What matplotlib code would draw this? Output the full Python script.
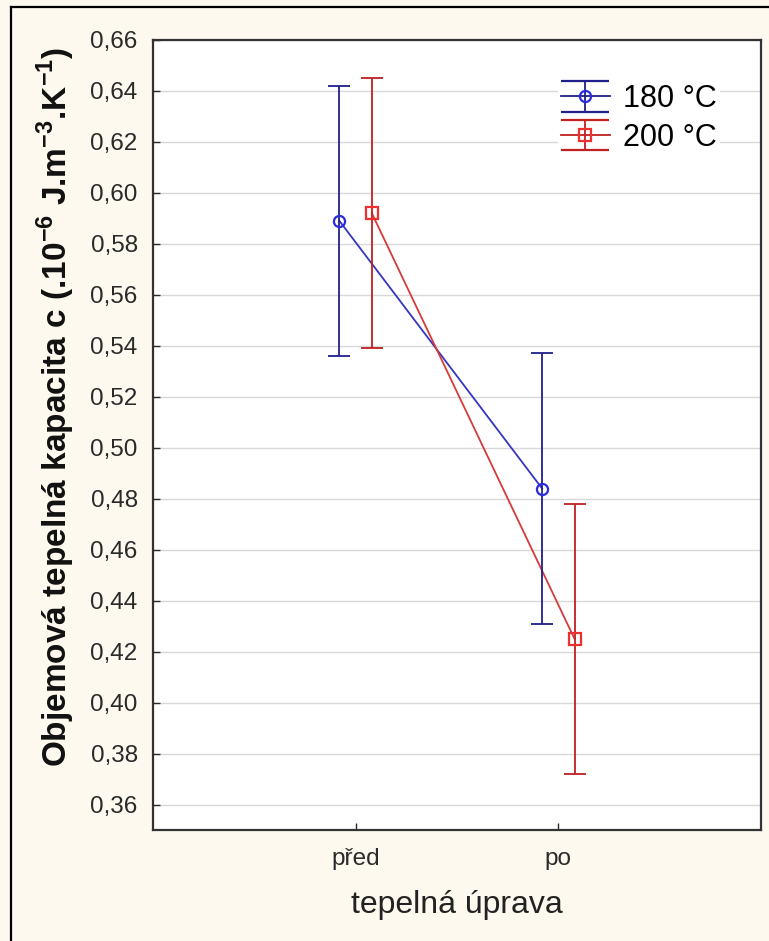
import matplotlib
matplotlib.use("Agg")
import matplotlib.pyplot as plt
from matplotlib.lines import Line2D

# data
groups = ["před", "po"]
series = ["180 °C", "200 °C"]
mean_180 = [0.589, 0.484]
err_180 = [0.053, 0.053]
mean_200 = [0.592, 0.425]
err_200 = [0.053, 0.053]
yticks = [0.36, 0.38, 0.40, 0.42, 0.44, 0.46, 0.48, 0.50, 0.52, 0.54,
          0.56, 0.58, 0.60, 0.62, 0.64, 0.66]

plt.rcParams["font.family"] = ["Liberation Sans", "DejaVu Sans"]
plt.rcParams["mathtext.fontset"] = "custom"
plt.rcParams["mathtext.rm"] = "Liberation Sans"
plt.rcParams["mathtext.bf"] = "Liberation Sans:bold"

bg = "#fdf9ef"
fig = plt.figure(figsize=(7.69, 9.41), dpi=100, facecolor=bg)
ax = fig.add_axes([153/769, 1 - 830/941, 608/769, 790/941])
ax.set_facecolor("white")

# outer frame (top and left visible)
fig.add_artist(Line2D([11/769, 11/769], [0, 1 - 7/941], transform=fig.transFigure,
                      color="black", lw=1.6))
fig.add_artist(Line2D([11/769, 1], [1 - 7/941, 1 - 7/941], transform=fig.transFigure,
                      color="black", lw=1.6))

x = [0, 1]
off = 0.08
blue_line = "#3535c0"
blue_err = "#20208a"
red_line = "#d83a3a"
red_err = "#c02020"

ax.plot([v - off for v in x], mean_180, color=blue_line, lw=1.3, zorder=3)
ax.plot([v + off for v in x], mean_200, color=red_line, lw=1.3, zorder=3)
ax.errorbar([v - off for v in x], mean_180, yerr=err_180, fmt="none",
            ecolor=blue_err, elinewidth=1.3, capsize=8, capthick=1.3, zorder=3)
ax.errorbar([v + off for v in x], mean_200, yerr=err_200, fmt="none",
            ecolor=red_err, elinewidth=1.3, capsize=8, capthick=1.3, zorder=3)
ax.plot([v - off for v in x], mean_180, "o", mfc="none", mec="#2a2ae0",
        mew=1.6, ms=8, zorder=4)
ax.plot([v + off for v in x], mean_200, "s", mfc="none", mec="#ee3030",
        mew=1.6, ms=8, zorder=4)

# legend handles (nan data, only used for the legend)
nan = float("nan")
h1 = ax.errorbar([nan], [nan], yerr=[0.01], fmt="-o", color=blue_err, mfc="none",
                 mec="#2a2ae0", ms=8, mew=1.6, capsize=17.5, capthick=1.3, lw=1.3)
h2 = ax.errorbar([nan], [nan], yerr=[0.01], fmt="-s", color=red_err, mfc="none",
                 mec="#ee3030", ms=8, mew=1.6, capsize=17.5, capthick=1.3, lw=1.3)
leg = ax.legend([h1, h2], series, loc="upper right",
                bbox_to_anchor=(0.933, 0.948),
                fontsize=22, frameon=True, facecolor="white", edgecolor="none",
                framealpha=1, handlelength=1.6, handletextpad=0.45,
                labelspacing=0.28, borderpad=0.1, borderaxespad=0)

ax.set_xlim(-1, 2)
ax.set_ylim(0.35, 0.66)
ax.set_xticks(x)
ax.set_xticklabels(groups)
ax.set_yticks(yticks)
ax.set_yticklabels([f"{t:.2f}".replace(".", ",") for t in yticks])
ax.tick_params(direction="in", length=5, width=1, labelsize=17.5, colors="#2a2a2a")
ax.tick_params(axis="y", pad=11)
ax.tick_params(axis="x", pad=13)
ax.yaxis.grid(True, color="#d8d8d8", lw=1)
ax.set_axisbelow(True)
for s in ax.spines.values():
    s.set_color("#333333")
    s.set_linewidth(1.6)

ax.set_xlabel("tepelná úprava", fontsize=23, labelpad=14, color="#222222")
ax.set_ylabel(r"Objemová tepelná kapacita c (.10$^{\mathbf{-6}}$ J.m$^{\mathbf{-3}}$.K$^{\mathbf{-1}}$)",
              fontsize=24, fontweight="bold", labelpad=10, color="#111111")
ax.yaxis.set_label_coords(-0.125, 0.535)

fig.savefig("out.png", dpi=100, facecolor=bg)
